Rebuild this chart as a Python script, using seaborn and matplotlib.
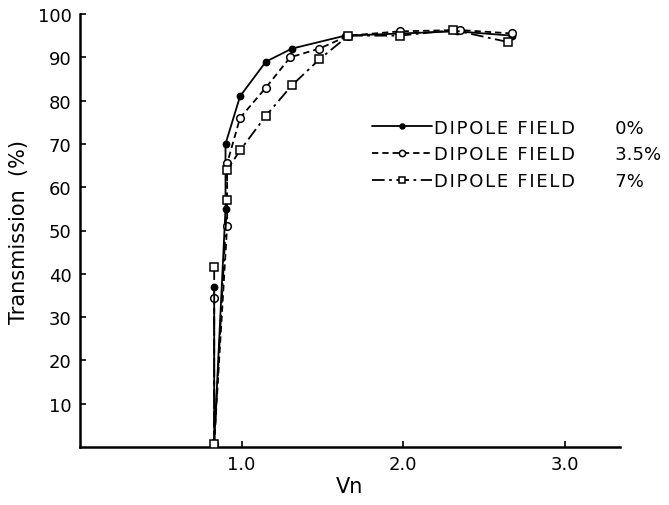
import numpy as np
import pandas as pd
import matplotlib
matplotlib.use("Agg")
import matplotlib.pyplot as plt
from matplotlib.lines import Line2D
from matplotlib.legend_handler import HandlerLine2D
import seaborn as sns

# ---- data ----
vn_0 = [0.83, 0.83, 0.90, 0.90, 0.99, 1.15, 1.31, 1.64, 2.33, 2.67]
tr_0 = [37.0, 0.8, 55.0, 70.0, 81.0, 89.0, 92.0, 95.0, 96.0, 95.0]

vn_35 = [0.83, 0.83, 0.91, 0.91, 0.99, 1.15, 1.30, 1.48, 1.66, 1.98, 2.35, 2.67]
tr_35 = [34.5, 0.8, 51.0, 65.5, 76.0, 83.0, 90.0, 92.0, 95.0, 96.0, 96.3, 95.5]

vn_7 = [0.83, 0.83, 0.91, 0.91, 0.99, 1.15, 1.31, 1.48, 1.66, 1.98, 2.31, 2.65]
tr_7 = [41.5, 0.8, 57.0, 64.0, 68.5, 76.5, 83.5, 89.5, 95.0, 95.0, 96.3, 93.5]

series_labels = ["DIPOLE FIELD", "DIPOLE FIELD", "DIPOLE FIELD"]
series_pct = ["0%", "3.5%", "7%"]
x_ticks = [1.0, 2.0, 3.0]
x_ticklabels = ["1.0", "2.0", "3.0"]
y_ticks = [10, 20, 30, 40, 50, 60, 70, 80, 90, 100]

sns.set_style("ticks")
plt.rcParams["font.family"] = ["DejaVu Sans"]
plt.rcParams["text.color"] = "black"
plt.rcParams["axes.labelcolor"] = "black"

fig = plt.figure(figsize=(6.69, 5.06), dpi=100)
ax = fig.add_axes([80 / 669, 1 - 448 / 506, (620 - 80) / 669, (448 - 15) / 506])

styles = [
    dict(x=vn_0, y=tr_0, ls="-", marker="o", mfc="black", ms=4.5),
    dict(x=vn_35, y=tr_35, ls=(0, (3.5, 2.2)), marker="o", mfc="white", ms=5.5),
    dict(x=vn_7, y=tr_7, ls=(0, (7, 2.5, 1.5, 2.5)), marker="s", mfc="white", ms=5.5),
]
for s in styles:
    df = pd.DataFrame({"Vn": s["x"], "T": s["y"]})
    sns.lineplot(data=df, x="Vn", y="T", ax=ax, sort=False, estimator=None,
                 color="black", linewidth=1.3, linestyle=s["ls"],
                 marker=s["marker"], markersize=s["ms"],
                 markerfacecolor=s["mfc"], markeredgecolor="black",
                 markeredgewidth=1.1, zorder=3)

ax.set_xlim(0, 3.34)
ax.set_ylim(0, 100)
ax.set_xticks(x_ticks)
ax.set_xticklabels(x_ticklabels)
ax.set_yticks(y_ticks)
ax.tick_params(direction="in", length=4, width=1.2, labelsize=13,
               colors="black", labelcolor="black", pad=6)
for sp in ["top", "right"]:
    ax.spines[sp].set_visible(False)
for sp in ["left", "bottom"]:
    ax.spines[sp].set_linewidth(1.8)
    ax.spines[sp].set_color("black")

ax.set_xlabel("Vn", fontsize=15, labelpad=2, color="black")
ax.set_ylabel("Transmission  (%)", fontsize=15, labelpad=6, color="black")


class LeftMarkerHandler(HandlerLine2D):
    def get_xdata(self, legend, xdescent, ydescent, width, height, fontsize):
        xd = np.array([-xdescent, -xdescent + width])
        return xd, np.array([-xdescent])


handles = []
for s in styles:
    handles.append(Line2D([0], [0], color="black", lw=1.3, ls=s["ls"],
                          marker=s["marker"], ms=s["ms"] - 1,
                          mfc=s["mfc"], mec="black", mew=1.1))
hair = "\u200a"
labels = []
for a, b in zip(series_labels, series_pct):
    spaced = hair.join(a)
    labels.append(f"{spaced}       {b}")
leg = ax.legend(handles, labels, loc="upper left", bbox_to_anchor=(0.541, 0.758),
                frameon=False, fontsize=13, handlelength=3.3, handletextpad=0.15,
                labelspacing=0.48, borderpad=0, borderaxespad=0,
                labelcolor="black",
                handler_map={Line2D: LeftMarkerHandler(numpoints=1)})

fig.savefig("out.png", dpi=100)
